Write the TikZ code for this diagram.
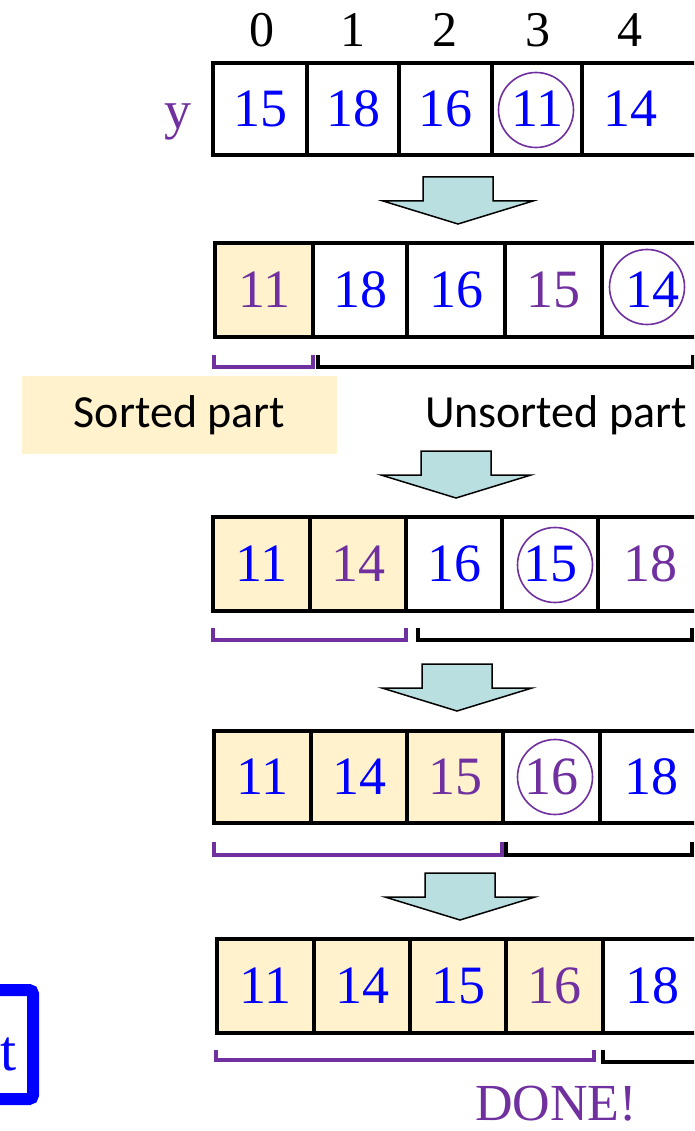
\documentclass[tikz,border=0pt]{standalone}
\usepackage{fontspec}
\setmainfont{Liberation Serif}
\newfontfamily\calfont{Carlito}
\definecolor{vblue}{HTML}{0000FF}
\definecolor{vpurple}{HTML}{7030A0}
\definecolor{cream}{HTML}{FFF2CC}
\definecolor{arrowc}{HTML}{B9DFE1}
\begin{document}
\begin{tikzpicture}[x=1pt,y=-1pt,
 numfont/.style={font=\fontsize{54}{60}\selectfont},
 cell/.style={draw=black, line width=4pt, inner sep=0pt, numfont, text=vblue},
 sorted/.style={fill=cream},
 pv/.style={text=vpurple},
 ring/.style={draw=vpurple, line width=1.6pt, circle, minimum size=75pt, inner sep=0pt},
 pbrace/.style={draw=vpurple, line width=4pt},
 kbrace/.style={draw=black, line width=4pt},
 idx/.style={inner sep=0pt, font=\fontsize{50}{56}\selectfont, text=black},
 downarrow/.pic={\draw[draw=black, line width=1.5pt, fill=arrowc]
   (-35,0) -- (35,0) -- (35,24) -- (75,24) -- (0,47) -- (-75,24) -- (-35,24) -- cycle;},
]
\clip (0,0) rectangle (694,1131);
\fill[white] (0,0) rectangle (694,1131);

% index labels
\node[idx] (i0) at (262,30) {0};
\node[idx] (i1) at (353,30) {1};
\node[idx] (i2) at (445,30) {2};
\node[idx] (i3) at (538,30) {3};
\node[idx] (i4) at (630,30) {4};
\node[inner sep=0pt, font=\fontsize{54}{60}\selectfont, text=vpurple, anchor=base] (ylab) at (178,129) {y};

% row 1
\node[cell, minimum width=94pt, minimum height=92pt] (r1c0) at (260,109) {15};
\node[cell, minimum width=92pt, minimum height=92pt] (r1c1) at (353,109) {18};
\node[cell, minimum width=93pt, minimum height=92pt] (r1c2) at (445.5,109) {16};
\node[cell, minimum width=90pt, minimum height=92pt] (r1c3) at (537,109) {11};
\node[cell, minimum width=120pt, minimum height=92pt] (r1c4) at (642,109) {};
\node[inner sep=0pt, numfont, text=vblue] (v1c4) at (630,109) {14};
\node[ring] (o1) at (536,110) {};

\pic (a1) at (458,177) {downarrow};

% row 2
\node[cell, sorted, pv, minimum width=98pt, minimum height=94pt] (r2c0) at (264,290) {11};
\node[cell, minimum width=94pt, minimum height=94pt] (r2c1) at (360,290) {18};
\node[cell, minimum width=98pt, minimum height=94pt] (r2c2) at (456,290) {16};
\node[cell, pv, minimum width=97pt, minimum height=94pt] (r2c3) at (553.5,290) {15};
\node[cell, minimum width=100pt, minimum height=94pt] (r2c4) at (652,290) {14};
\node[ring] (o2) at (647,287) {};
\draw[pbrace] (214,355) -- (214,367) -- (313,367) -- (313,355);
\draw[kbrace] (318,355) -- (318,367) -- (693,367) -- (693,355);

\node[fill=cream, minimum width=315pt, minimum height=78pt, inner sep=0pt,
  font=\calfont\fontsize{46}{52}\selectfont] (sp) at (179.5,415) {Sorted part};
\node[inner sep=0pt, font=\calfont\fontsize{46}{52}\selectfont] (up) at (556,415) {Unsorted part};

\pic (a2) at (456,451) {downarrow};

% row 3
\node[cell, sorted, minimum width=97pt, minimum height=94pt] (r3c0) at (261.5,564) {11};
\node[cell, sorted, pv, minimum width=96pt, minimum height=94pt] (r3c1) at (358,564) {14};
\node[cell, minimum width=96pt, minimum height=94pt] (r3c2) at (454,564) {16};
\node[cell, minimum width=96pt, minimum height=94pt] (r3c3) at (550,564) {15};
\node[cell, pv, minimum width=104pt, minimum height=94pt] (r3c4) at (650,564) {18};
\node[ring] (o3) at (555,565) {};
\draw[pbrace] (213,628) -- (213,640) -- (406,640) -- (406,628);
\draw[kbrace] (418,628) -- (418,640) -- (692,640) -- (692,628);

\pic (a3) at (457,664) {downarrow};

% row 4
\node[cell, sorted, minimum width=97pt, minimum height=92pt] (r4c0) at (262.5,777) {11};
\node[cell, sorted, minimum width=96pt, minimum height=92pt] (r4c1) at (359,777) {14};
\node[cell, sorted, pv, minimum width=96pt, minimum height=92pt] (r4c2) at (455,777) {15};
\node[cell, pv, minimum width=97pt, minimum height=92pt] (r4c3) at (551.5,777) {16};
\node[cell, minimum width=102pt, minimum height=92pt] (r4c4) at (651,777) {18};
\node[ring] (o4) at (555,777) {};
\draw[pbrace] (214,842) -- (214,855) -- (502,855) -- (502,842);
\draw[kbrace] (506,842) -- (506,855) -- (692,855) -- (692,842);

\pic (a4) at (460,873) {downarrow};

% row 5
\node[cell, sorted, minimum width=97pt, minimum height=94pt] (r5c0) at (265.5,986) {11};
\node[cell, sorted, minimum width=96pt, minimum height=94pt] (r5c1) at (362,986) {14};
\node[cell, sorted, minimum width=96pt, minimum height=94pt] (r5c2) at (458,986) {15};
\node[cell, sorted, pv, minimum width=97pt, minimum height=94pt] (r5c3) at (554.5,986) {16};
\node[cell, minimum width=99pt, minimum height=94pt] (r5c4) at (652.5,986) {18};
\draw[pbrace] (216,1050) -- (216,1060) -- (594,1060) -- (594,1050);
\draw[kbrace] (603,1050) -- (603,1062) -- (712,1062);

\node[inner sep=0pt, font=\fontsize{52}{58}\selectfont, text=vpurple] (done) at (556,1104) {DONE!};

% blue box at bottom left
\draw[draw=vblue, line width=12pt, rounded corners=4pt] (-80,990) rectangle (33,1099);
\node[inner sep=0pt, font=\fontsize{58}{66}\selectfont, text=vblue, anchor=base west] (tt) at (0.5,1070) {t};
\end{tikzpicture}
\end{document}
